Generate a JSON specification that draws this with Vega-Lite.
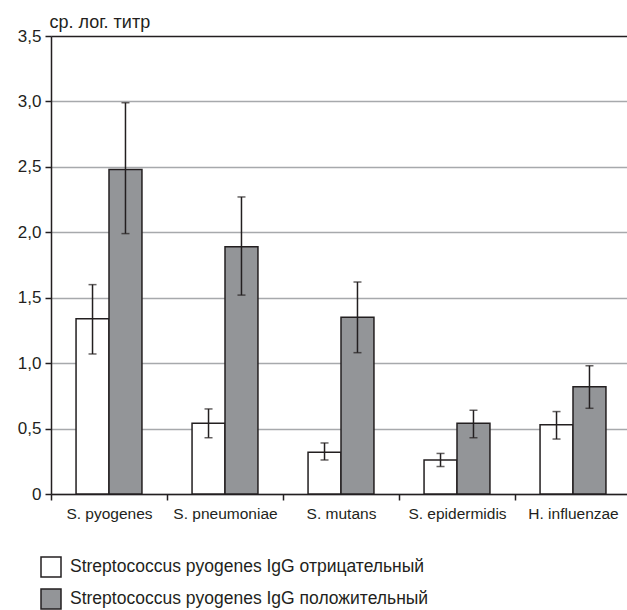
{
  "$schema": "https://vega.github.io/schema/vega-lite/v6.json",
  "width": 580,
  "height": 458,
  "autosize": {"type": "none"},
  "padding": {"left": 51, "top": 36, "right": 0, "bottom": 116},
  "background": "white",
  "config": {
    "view": {"stroke": null},
    "font": "Liberation Sans, Arial, sans-serif"
  },
  "data": {
    "values": [
      {"category": "S. pyogenes", "group": "Streptococcus pyogenes IgG отрицательный", "value": 1.34, "lo": 1.07, "hi": 1.6},
      {"category": "S. pyogenes", "group": "Streptococcus pyogenes IgG положительный", "value": 2.48, "lo": 1.99, "hi": 2.99},
      {"category": "S. pneumoniae", "group": "Streptococcus pyogenes IgG отрицательный", "value": 0.54, "lo": 0.43, "hi": 0.65},
      {"category": "S. pneumoniae", "group": "Streptococcus pyogenes IgG положительный", "value": 1.89, "lo": 1.52, "hi": 2.27},
      {"category": "S. mutans", "group": "Streptococcus pyogenes IgG отрицательный", "value": 0.32, "lo": 0.26, "hi": 0.39},
      {"category": "S. mutans", "group": "Streptococcus pyogenes IgG положительный", "value": 1.35, "lo": 1.08, "hi": 1.62},
      {"category": "S. epidermidis", "group": "Streptococcus pyogenes IgG отрицательный", "value": 0.26, "lo": 0.21, "hi": 0.31},
      {"category": "S. epidermidis", "group": "Streptococcus pyogenes IgG положительный", "value": 0.54, "lo": 0.43, "hi": 0.64},
      {"category": "H. influenzae", "group": "Streptococcus pyogenes IgG отрицательный", "value": 0.53, "lo": 0.42, "hi": 0.63},
      {"category": "H. influenzae", "group": "Streptococcus pyogenes IgG положительный", "value": 0.82, "lo": 0.655, "hi": 0.98}
    ]
  },
  "encoding": {
    "x": {
      "field": "category",
      "type": "nominal",
      "sort": null,
      "scale": {"paddingInner": 0, "paddingOuter": 0},
      "axis": {
        "title": null,
        "labelAngle": 0,
        "labelFontSize": 15.5,
        "labelColor": "#231f20",
        "labelPadding": 6,
        "tickBand": "extent",
        "tickSize": 6,
        "tickWidth": 1.5,
        "tickColor": "#231f20",
        "domainColor": "#231f20",
        "domainWidth": 1.5,
        "grid": false
      }
    },
    "xOffset": {
      "field": "group",
      "type": "nominal",
      "scale": {"paddingInner": 0, "paddingOuter": 0.76}
    }
  },
  "layer": [
    {
      "mark": {"type": "bar", "stroke": "#231f20", "strokeWidth": 1.5},
      "encoding": {
        "y": {
          "field": "value",
          "type": "quantitative",
          "scale": {"domain": [0, 3.5], "nice": false},
          "axis": {
            "title": "ср. лог. титр",
            "titleAngle": 0,
            "titleAlign": "left",
            "titleBaseline": "alphabetic",
            "titleX": -2,
            "titleY": -9,
            "titleFontSize": 18,
            "titleFontWeight": "normal",
            "titleColor": "#231f20",
            "values": [0, 0.5, 1, 1.5, 2, 2.5, 3, 3.5],
            "labelExpr": "datum.value == 0 ? '0' : replace(format(datum.value, '.1f'), '.', ',')",
            "labelFontSize": 17,
            "labelColor": "#231f20",
            "labelPadding": 4,
            "tickSize": 6,
            "tickWidth": 1.5,
            "tickColor": "#231f20",
            "domainColor": "#231f20",
            "domainWidth": 1.5,
            "grid": true,
            "gridColor": {"condition": {"test": "datum.value == 3.5", "value": "#231f20"}, "value": "#a7a9ac"},
            "gridWidth": 1.5
          }
        },
        "fill": {
          "field": "group",
          "type": "nominal",
          "scale": {"range": ["#ffffff", "#939598"]},
          "legend": {
            "title": null,
            "orient": "none",
            "legendX": -11,
            "legendY": 520,
            "symbolType": "square",
            "symbolSize": 400,
            "symbolStrokeColor": "#231f20",
            "symbolStrokeWidth": 1.5,
            "labelFontSize": 17.5,
            "labelColor": "#231f20",
            "labelOffset": 8,
            "rowPadding": 6,
            "labelLimit": 600
          }
        }
      }
    },
    {
      "mark": {"type": "rule", "color": "#231f20", "strokeWidth": 1.5},
      "encoding": {
        "y": {"field": "lo", "type": "quantitative"},
        "y2": {"field": "hi"}
      }
    },
    {
      "mark": {"type": "tick", "color": "#231f20", "size": 8, "thickness": 1.5},
      "encoding": {"y": {"field": "lo", "type": "quantitative"}}
    },
    {
      "mark": {"type": "tick", "color": "#231f20", "size": 8, "thickness": 1.5},
      "encoding": {"y": {"field": "hi", "type": "quantitative"}}
    }
  ]
}
